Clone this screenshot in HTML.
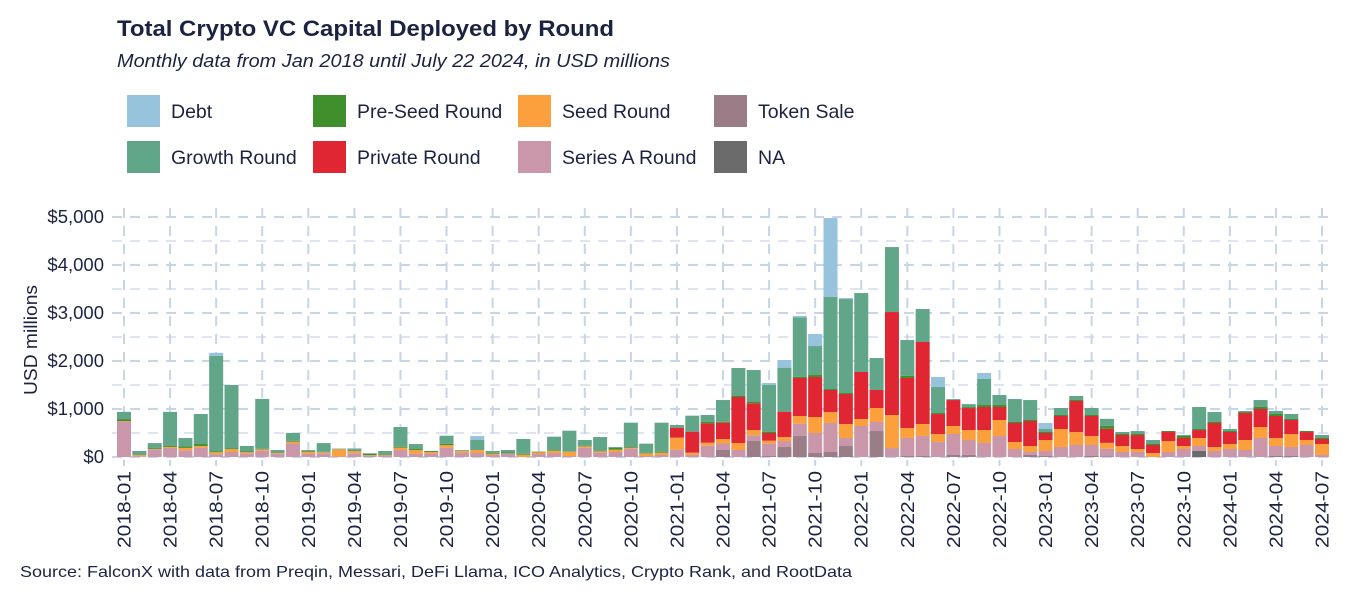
<!DOCTYPE html>
<html><head><meta charset="utf-8"><style>
body{margin:0;background:#fff;font-family:"Liberation Sans",Arial,sans-serif}
svg text{font-family:"Liberation Sans",Arial,sans-serif}
</style></head><body>
<svg id="chart" width="1350" height="600" xmlns="http://www.w3.org/2000/svg">
<text x="117" y="36" font-size="22" font-weight="bold" fill="#1b2341" textLength="497" lengthAdjust="spacingAndGlyphs">Total Crypto VC Capital Deployed by Round</text>
<text x="117" y="67" font-size="18.5" font-style="italic" fill="#1b2341" textLength="553" lengthAdjust="spacingAndGlyphs">Monthly data from Jan 2018 until July 22 2024, in USD millions</text>
<g id="legend"></g>
<g id="grid"></g>
<g id="bars"></g>
<g id="axes"></g>
<text transform="translate(37,340) rotate(-90)" text-anchor="middle" font-size="18" fill="#1b2341" textLength="110" lengthAdjust="spacingAndGlyphs">USD millions</text>
<text x="20" y="577" font-size="16" fill="#1b2341" textLength="832" lengthAdjust="spacingAndGlyphs">Source: FalconX with data from Preqin, Messari, DeFi Llama, ICO Analytics, Crypto Rank, and RootData</text>
</svg>
<script>
const seriesNames = ["NA","Token Sale","Series A Round","Seed Round","Private Round","Pre-Seed Round","Growth Round","Debt"];
const na = [0,0,0,0,0,0,0,0,0,0,0,0,0,0,0,0,0,0,0,0,0,0,0,0,0,0,0,0,0,0,0,0,0,0,0,0,0,0,0,0,0,0,0,0,0,0,0,0,0,0,0,0,0,0,0,0,0,0,0,0,0,0,0,0,0,0,0,0,0,0,125,0,0,0,0,0,0,0,0];
const tokenSale = [0,0,0,0,0,0,0,0,0,0,0,0,0,0,0,0,0,0,0,0,0,0,0,0,0,0,0,0,0,0,0,0,0,0,0,0,0,0,0,146,0,333,20,208,437,83,104,229,0,541,0,20,20,0,42,42,0,0,0,42,20,0,0,21,10,0,0,0,0,0,0,0,0,0,0,21,21,0,0];
const seriesA = [740,15,160,190,140,195,60,104,70,130,70,280,70,80,10,80,30,40,145,70,75,194,83,83,42,76,0,62,83,20,194,90,104,173,21,42,153,42,236,135,146,118,258,125,257,417,604,167,646,188,187,376,417,312,437,312,292,437,167,62,105,208,250,229,160,104,104,0,104,167,104,125,167,146,396,208,187,250,42];
const seed = [10,25,10,20,50,35,40,60,30,30,15,40,40,20,150,45,10,10,50,75,30,55,40,62,28,0,48,35,48,90,28,28,48,21,55,49,250,49,62,94,146,111,62,84,160,333,229,291,146,292,688,208,250,167,167,208,270,334,145,125,229,375,271,187,125,125,63,83,229,62,167,83,104,208,229,167,271,104,229];
const privateRound = [0,0,0,0,0,0,0,0,0,0,0,0,0,0,0,0,0,0,0,0,0,0,0,0,0,0,0,0,0,0,0,0,0,0,0,0,208,437,403,340,958,556,160,527,792,834,459,625,979,375,2145,1042,1709,416,541,458,480,271,396,521,146,271,646,417,291,229,291,167,187,167,166,500,250,562,375,458,292,166,104];
const preSeed = [40,0,25,20,35,40,15,20,15,10,15,15,20,10,0,15,25,20,15,20,20,25,0,0,20,25,20,14,14,0,14,14,42,14,14,21,0,0,35,20,21,28,28,0,27,41,20,21,0,0,0,48,0,21,0,20,41,41,21,21,21,21,21,21,63,21,21,21,21,42,21,21,21,21,42,42,21,21,21];
const growth = [150,85,95,710,170,625,1990,1316,115,1040,45,165,15,180,15,25,15,55,415,105,0,170,20,209,35,45,307,0,278,438,118,284,14,507,188,603,55,333,139,452,583,666,972,917,1237,604,1917,1958,1645,666,1354,743,687,542,20,62,542,208,479,416,62,146,83,146,146,42,62,83,0,20,459,208,41,21,145,62,104,0,62];
const debt = [0,0,0,0,0,0,65,0,0,0,0,0,0,0,0,20,0,0,0,0,0,0,0,83,0,0,0,0,0,0,0,0,0,0,0,0,0,0,0,0,0,0,41,160,30,250,1645,21,0,0,0,0,0,208,0,0,125,0,0,0,125,0,0,0,0,0,0,0,0,0,0,0,0,0,0,0,0,0,0];
const yTicks = [0,1000,2000,3000,4000,5000];
const yTickLabels = ["$0","$1,000","$2,000","$3,000","$4,000","$5,000"];
const legendOrder = ["Debt","Pre-Seed Round","Seed Round","Token Sale","Growth Round","Private Round","Series A Round","NA"];

const colors = {"NA":"#6b6b6b","Token Sale":"#9a7d86","Series A Round":"#c997a9","Seed Round":"#fc9f3d","Private Round":"#e02632","Pre-Seed Round":"#3f8f2d","Growth Round":"#62a68a","Debt":"#97c3dc"};
const stack = [na,tokenSale,seriesA,seed,privateRound,preSeed,growth,debt];
const NS="http://www.w3.org/2000/svg";
const nMonths = seriesA.length;
const x0=124, step=(1322-124)/78, yBase=457, pxPer=48/1000;
const xS = i => x0 + i*step;
const yS = v => yBase - v*pxPer;
function mk(tag, attrs, parent){const e=document.createElementNS(NS,tag);for(const k in attrs)e.setAttribute(k,attrs[k]);parent.appendChild(e);return e;}
const grid=document.getElementById('grid'), bars=document.getElementById('bars'), axes=document.getElementById('axes'), legend=document.getElementById('legend');
const gStyle={stroke:"#c9d4e6","stroke-width":2,"stroke-dasharray":"10,8"};
for(let v=0; v<=5000; v+=500){
  const l=mk('line',Object.assign({x1:112,x2:1332,y1:yS(v),y2:yS(v)},gStyle),grid);
  
  
  if(v%1000) l.setAttribute('stroke-width',1.3);
}
for(let i=0;i<nMonths;i+=3){
  const l=mk('line',Object.assign({x1:xS(i),x2:xS(i),y1:208,y2:466},gStyle),grid);
  
  
}
for(let i=0;i<nMonths;i++){
  let acc=0;
  for(let s=0;s<stack.length;s++){
    const v=stack[s][i]; if(!v) continue;
    const r=mk('rect',{x:xS(i)-7,width:14,y:yS(acc+v),height:v*pxPer,fill:colors[seriesNames[s]]},bars);
    
    
    acc+=v;
  }
}
yTicks.forEach((v,k)=>{
  const t=mk('text',{x:104,y:yS(v)+6,"text-anchor":"end","font-size":18.5,fill:"#1b2341"},axes);
  t.textContent=yTickLabels[k];
  
  
});
for(let i=0;i<nMonths;i+=3){
  const yr=2018+Math.floor(i/12), mo=(i%12)+1;
  const t=mk('text',{transform:`translate(${xS(i)+6.5},471) rotate(-90)`,"text-anchor":"end","font-size":18,fill:"#1b2341",textLength:77,lengthAdjust:"spacingAndGlyphs"},axes);
  t.textContent=yr+"-"+(mo<10?"0":"")+mo;
  
  
}
const lx=[127,313,518,714];
legendOrder.forEach((name,k)=>{
  const col=k%4,row=Math.floor(k/4);
  const g=mk('g',{},legend);
  
  
  mk('rect',{x:lx[col],y:95+row*46,width:33,height:32,fill:colors[name]},g);
  const t=mk('text',{x:lx[col]+44,y:118+row*46,"font-size":19.5,fill:"#1b2341"},g);
  t.textContent=name;
});
</script>
</body></html>
